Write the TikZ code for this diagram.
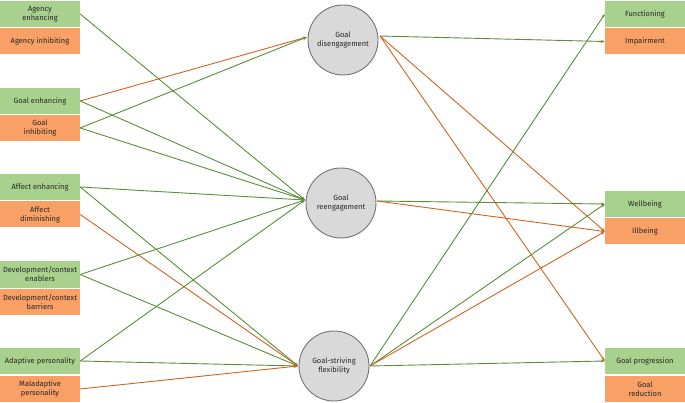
\documentclass[tikz,border=0pt]{standalone}
\usepackage{fontspec}
\setmainfont{Fira Sans}
\usetikzlibrary{arrows.meta}
\definecolor{gfill}{HTML}{A9D18E}
\definecolor{ofill}{HTML}{F8A066}
\definecolor{gline}{HTML}{5A8E38}
\definecolor{oline}{HTML}{CF6420}
\definecolor{cfill}{HTML}{D9D9D9}
\begin{document}
\begin{tikzpicture}[x=1pt,y=-1pt,
  box/.style={minimum width=80pt,minimum height=26pt,inner sep=1pt,align=center,font=\fontsize{7.5}{9}\selectfont,text=black!85},
  gb/.style={box,fill=gfill},
  ob/.style={box,fill=ofill},
  circ/.style={circle,draw=black!55,line width=0.9pt,fill=cfill,minimum size=70pt,inner sep=0pt,align=center,font=\fontsize{7.5}{9}\selectfont,text=black!85},
  ga/.style={draw=gline,line width=0.9pt,-{Stealth[length=4pt,width=3pt]}},
  oa/.style={draw=oline,line width=0.9pt,-{Stealth[length=4pt,width=3pt]}}]
\useasboundingbox (0,0) rectangle (685,403);
\node[gb] (ae) at (40,14) {Agency\\enhancing};
\node[ob] (ai) at (40,41) {Agency inhibiting};
\node[gb] (ge) at (40,101) {Goal enhancing};
\node[ob] (gi) at (40,128) {Goal\\inhibiting};
\node[gb] (fe) at (40,187) {Affect enhancing};
\node[ob] (fd) at (40,214.5) {Affect\\diminishing};
\node[gb] (de) at (40,274.5) {Development/context\\enablers};
\node[ob] (db) at (40,302) {Development/context\\barriers};
\node[gb] (ap) at (40,361) {Adaptive personality};
\node[ob] (mp) at (40,389) {Maladaptive\\personality};
\node[circ] (dis) at (343,40) {Goal\\disengagement};
\node[circ] (ree) at (341,203) {Goal\\reengagement};
\node[circ] (fle) at (334,366) {Goal-striving\\flexibility};
\node[gb] (fu) at (645,14) {Functioning};
\node[ob] (im) at (645,41.5) {Impairment};
\node[gb] (wb) at (645,204) {Wellbeing};
\node[ob] (ib) at (645,231.5) {Illbeing};
\node[gb] (gp) at (645,361) {Goal progression};
\node[ob] (gr) at (645,389) {Goal\\reduction};
\coordinate (dIn) at (307,37);
\coordinate (rIn) at (305,200);
\coordinate (fIn) at (298,366);
\coordinate (dOut) at (380,36);
\coordinate (rOut) at (377,201);
\coordinate (fOut) at (370,366);
\draw[ga] (ae.east) -- (rIn);
\draw[oa] (ge.east) -- (dIn);
\draw[ga] (ge.east) -- (rIn);
\draw[ga] (gi.east) -- (dIn);
\draw[ga] (gi.east) -- (rIn);
\draw[ga] (fe.east) -- (rIn);
\draw[ga] (fe.east) -- (fIn);
\draw[oa] (fd.east) -- (fIn);
\draw[ga] (de.east) -- (rIn);
\draw[ga] (de.east) -- (fIn);
\draw[ga] (ap.east) -- (rIn);
\draw[ga] (ap.east) -- (fIn);
\draw[oa] (mp.east) -- (fIn);
\draw[ga] (dOut) -- (im.west);
\draw[oa] (dOut) -- (ib.west);
\draw[oa] (dOut) -- (gp.west);
\draw[ga] (rOut) -- (wb.west);
\draw[oa] (rOut) -- (ib.west);
\draw[ga] (fOut) -- (fu.west);
\draw[ga] (fOut) -- (wb.west);
\draw[oa] (fOut) -- (ib.west);
\draw[ga] (fOut) -- (gp.west);
\end{tikzpicture}
\end{document}
